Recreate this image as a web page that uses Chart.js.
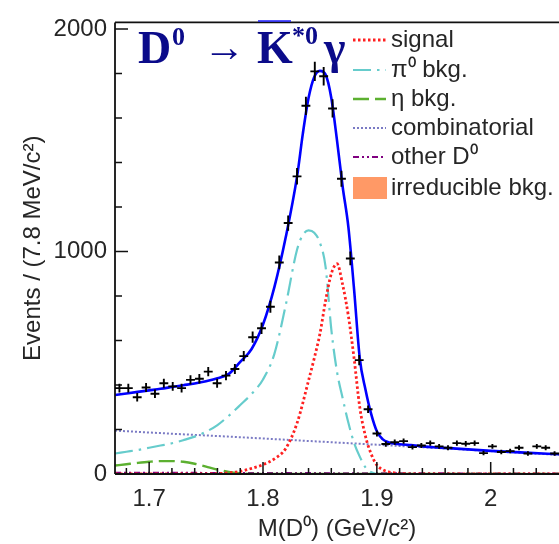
<!DOCTYPE html>
<html><head><meta charset="utf-8">
<script src="https://cdn.jsdelivr.net/npm/chart.js@4.4.1/dist/chart.umd.min.js"></script>
<style>html,body{margin:0;padding:0;background:#fff;}canvas{display:block;}</style>
</head><body>
<canvas id="c" width="559" height="544"></canvas>
<script>
// ---- data ----
const binCenters = [1.6739,1.6817,1.6895,1.6973,1.7051,1.7129,1.7207,1.7285,1.7363,1.7441,
  1.7519,1.7597,1.7675,1.7753,1.7831,1.7909,1.7987,1.8065,1.8143,1.8221,
  1.8299,1.8377,1.8455,1.8533,1.8611,1.8689,1.8767,1.8845,1.8923,1.9001,
  1.9079,1.9157,1.9235,1.9313,1.9391,1.9469,1.9547,1.9625,1.9703,1.9781,
  1.9859,1.9937,2.0015,2.0093,2.0171,2.0249,2.0327,2.0405,2.0483,2.0561];
const counts = [386,386,345,389,361,408,394,386,423,428,
  460,408,442,472,530,615,655,752,951,1128,
  1338,1655,1810,1788,1643,1327,969,512,291,182,
  135,143,148,121,128,139,124,118,139,136,
  139,94,124,99,103,118,92,124,118,92];
const countErrors = [20,20,19,20,19,20,20,20,21,21,
  21,20,21,22,23,25,26,27,31,34,
  37,41,43,42,41,36,31,23,17,13,
  12,12,12,11,11,12,11,11,12,12,
  12,10,11,10,10,11,10,11,11,10];
const binHalfWidth = 0.0039;

const fitX = [1.67,1.68,1.69,1.70,1.71,1.72,1.73,1.74,1.75,1.76,1.77,1.78,1.79,1.80,1.81,1.82,1.83,1.835,1.84,1.845,1.85,1.855,1.86,1.865,1.87,1.875,1.88,1.885,1.89,1.895,1.90,1.905,1.91,1.92,1.93,1.95,1.97,2.00,2.03,2.06];
const fitTotal = [355,362,369,376,383,391,399,407,417,430,450,504,562,672,840,1065,1340,1530,1690,1785,1812,1795,1690,1500,1290,1110,830,520,380,270,192,157,143,134,130,120,114,104,96,89];

const signalX = [1.67,1.74,1.76,1.77,1.78,1.79,1.80,1.81,1.82,1.83,1.84,1.845,1.85,1.855,1.86,1.865,1.87,1.875,1.88,1.885,1.89,1.895,1.90,1.905,1.91,1.92,1.94,2.06];
const signalY = [0,0,2,5,12,25,42,68,115,230,420,520,630,780,900,945,850,710,520,300,170,90,40,20,10,3,0,0];

const pi0X = [1.67,1.68,1.69,1.70,1.71,1.72,1.73,1.74,1.75,1.76,1.77,1.78,1.79,1.80,1.81,1.82,1.83,1.835,1.84,1.845,1.85,1.855,1.86,1.865,1.87,1.875,1.88,1.885,1.89,1.895,1.90];
const pi0Y = [92,100,108,118,128,138,152,168,190,220,262,310,360,425,540,760,1010,1075,1095,1085,1040,930,650,460,340,230,140,78,30,8,0];

const etaX = [1.67,1.68,1.69,1.70,1.71,1.72,1.73,1.74,1.75,1.76,1.77,1.78,1.79,1.80,2.06];
const etaY = [38,44,50,55,58,58,55,46,33,20,9,3,0,0,0];

const combX = [1.67,1.72,1.77,1.82,1.87,1.92,1.97,2.02,2.06];
const combY = [195,181,168,154,140,126,112,97,86];

const otherX = [1.67,1.75,1.85,1.95,2.06];
const otherY = [6,5,4,3,2];

const irrX = [1.67,1.75,1.85,1.95,2.06];
const irrY = [2,2,4,2,2];

const xMajorTicks = [1.7,1.8,1.9,2.0];
const xTickLabels = ['1.7','1.8','1.9','2'];
const xMinorTicks = [1.68,1.72,1.74,1.76,1.78,1.82,1.84,1.86,1.88,1.92,1.94,1.96,1.98,2.02,2.04];
const yMajorTicks = [0,1000,2000];
const yTickLabels = ['0','1000','2000'];
const yMinorTicks = [200,400,600,800,1200,1400,1600,1800];

const legendLabels = ['signal','π⁰ bkg.','η bkg.','combinatorial','other D⁰','irreducible bkg.'];
const xTitle = 'M(D⁰) (GeV/c²)';
const yTitle = 'Events / (7.8 MeV/c²)';

// ---- helpers ----
const pts = (xs, ys) => xs.map((x, i) => ({x: x, y: ys[i]}));
const SANS = '"Liberation Sans", Arial, sans-serif';
const TEXT_COLOR = '#262626';

const frameTicksPlugin = {
  id: 'frameTicks',
  afterDatasetsDraw(chart) {
    const {ctx, chartArea: a, scales} = chart;
    const xs = scales.x, ys = scales.y;
    ctx.save();
    ctx.strokeStyle = '#111';
    ctx.lineWidth = 1.8;
    ctx.beginPath();
    ctx.moveTo(a.left, a.top); ctx.lineTo(a.right + 2, a.top);
    ctx.moveTo(a.left, a.top); ctx.lineTo(a.left, a.bottom);
    ctx.moveTo(a.left, a.bottom); ctx.lineTo(a.right + 2, a.bottom);
    ctx.stroke();
    ctx.lineWidth = 1.5;
    ctx.beginPath();
    xMajorTicks.forEach(v => { const p = xs.getPixelForValue(v); ctx.moveTo(p, a.bottom); ctx.lineTo(p, a.bottom - 12); });
    xMinorTicks.forEach(v => { const p = xs.getPixelForValue(v); ctx.moveTo(p, a.bottom); ctx.lineTo(p, a.bottom - 6); });
    yMajorTicks.forEach(v => { const p = ys.getPixelForValue(v); ctx.moveTo(a.left, p); ctx.lineTo(a.left + 13, p); });
    yMinorTicks.forEach(v => { const p = ys.getPixelForValue(v); ctx.moveTo(a.left, p); ctx.lineTo(a.left + 7, p); });
    ctx.stroke();
    ctx.restore();
  }
};

const errorBarPlugin = {
  id: 'errorBars',
  afterDatasetsDraw(chart) {
    const idx = chart.data.datasets.findIndex(d => d.label === 'data');
    const meta = chart.getDatasetMeta(idx);
    const {ctx, scales} = chart;
    ctx.save();
    ctx.strokeStyle = '#000';
    ctx.lineWidth = 1.9;
    ctx.beginPath();
    meta.data.forEach((el, i) => {
      const x0 = scales.x.getPixelForValue(binCenters[i] - binHalfWidth);
      const x1 = scales.x.getPixelForValue(binCenters[i] + binHalfWidth);
      const y0 = scales.y.getPixelForValue(counts[i] - countErrors[i]);
      const y1 = scales.y.getPixelForValue(counts[i] + countErrors[i]);
      ctx.moveTo(x0, el.y); ctx.lineTo(x1, el.y);
      ctx.moveTo(el.x, y0); ctx.lineTo(el.x, y1);
    });
    ctx.stroke();
    ctx.restore();
  }
};

const legendPlugin = {
  id: 'customLegend',
  afterDraw(chart) {
    const ctx = chart.ctx;
    const rows = [40, 70, 99, 128, 157, 188];
    ctx.save();
    legendLabels.forEach((lab, i) => {
      const ds = chart.data.datasets.find(d => d.label === lab);
      const y = rows[i];
      if (ds.fill) {
        ctx.fillStyle = ds.backgroundColor;
        ctx.fillRect(353, y - 11, 34, 22);
      } else {
        ctx.strokeStyle = ds.borderColor;
        ctx.lineWidth = ds.borderWidth;
        ctx.setLineDash(ds.borderDash || []);
        ctx.beginPath(); ctx.moveTo(353, y); ctx.lineTo(386, y); ctx.stroke();
        ctx.setLineDash([]);
      }
      ctx.fillStyle = TEXT_COLOR;
      ctx.font = '24px ' + SANS;
      ctx.textBaseline = 'middle';
      ctx.fillText(lab, 391, y);
    });
    ctx.restore();
  }
};

const titlePlugin = {
  id: 'titleText',
  afterDraw(chart) {
    const ctx = chart.ctx;
    const SERIF = '"Liberation Serif", "Times New Roman", serif';
    ctx.save();
    ctx.fillStyle = '#0b0b8a';
    ctx.textBaseline = 'alphabetic';
    ctx.font = 'bold 46px ' + SERIF; ctx.fillText('D', 138, 63);
    ctx.font = 'bold 26px ' + SERIF; ctx.fillText('0', 172, 45);
    ctx.font = '42px ' + SERIF; ctx.fillText('→', 203, 61);
    ctx.font = 'bold 46px ' + SERIF; ctx.fillText('K', 257, 63);
    ctx.font = 'bold 26px ' + SERIF; ctx.fillText('*0', 292, 44);
    ctx.font = 'bold 46px ' + SERIF; ctx.fillText('γ', 324, 63);
    ctx.strokeStyle = '#1a1aff'; ctx.lineWidth = 1.6;
    ctx.beginPath(); ctx.moveTo(258, 21); ctx.lineTo(291, 21); ctx.stroke();
    ctx.restore();
  }
};

const lineDs = (label, xs, ys, color, width, dash, order) => ({
  label: label, data: pts(xs, ys), showLine: true, borderColor: color,
  borderWidth: width, borderDash: dash, pointRadius: 0, fill: false,
  cubicInterpolationMode: 'monotone', order: order
});

new Chart(document.getElementById('c'), {
  type: 'scatter',
  data: {
    datasets: [
      {label: 'data', data: pts(binCenters, counts), pointRadius: 0, showLine: false, order: 0},
      lineDs('total fit', fitX, fitTotal, '#0000ff', 2.6, [], 1),
      lineDs('signal', signalX, signalY, '#ff2020', 2.8, [2.5, 2.5], 2),
      lineDs('π⁰ bkg.', pi0X, pi0Y, '#66cccc', 2.2, [18, 6, 2.5, 6], 3),
      lineDs('η bkg.', etaX, etaY, '#5cb030', 2.4, [16, 6], 4),
      lineDs('combinatorial', combX, combY, '#7a7ac4', 2, [2, 2], 5),
      lineDs('other D⁰', otherX, otherY, '#800080', 2, [6, 3, 2, 3, 2, 3], 6),
      {label: 'irreducible bkg.', data: pts(irrX, irrY), showLine: true, fill: 'origin',
       backgroundColor: '#ff9966', borderWidth: 0, borderColor: '#ff9966', pointRadius: 0, order: 7}
    ]
  },
  options: {
    responsive: false, animation: false, devicePixelRatio: 1,
    layout: {padding: {top: 15, right: 0, left: 0, bottom: 0}},
    plugins: {legend: {display: false}, tooltip: {enabled: false}},
    scales: {
      x: {
        type: 'linear', min: 1.67, max: 2.06,
        afterFit: s => { s.height = 70; },
        afterBuildTicks: s => { s.ticks = xMajorTicks.map(v => ({value: v})); },
        grid: {display: false, drawTicks: false},
        border: {display: false},
        ticks: {callback: (v, i) => xTickLabels[i], autoSkip: false, maxRotation: 0,
                padding: 11, color: TEXT_COLOR, font: {family: SANS, size: 24}},
        title: {display: true, text: xTitle, color: TEXT_COLOR, font: {family: SANS, size: 24},
                padding: {top: 0, bottom: 0}}
      },
      y: {
        type: 'linear', min: 0, max: 2030,
        afterFit: s => { s.width = 115; },
        afterBuildTicks: s => { s.ticks = yMajorTicks.map(v => ({value: v})); },
        grid: {display: false, drawTicks: false},
        border: {display: false},
        ticks: {callback: (v, i) => yTickLabels[i], autoSkip: false,
                padding: 8, color: TEXT_COLOR, font: {family: SANS, size: 24}},
        title: {display: true, text: yTitle, color: TEXT_COLOR, font: {family: SANS, size: 24},
                padding: {top: 19, bottom: 0}}
      }
    }
  },
  plugins: [frameTicksPlugin, errorBarPlugin, legendPlugin, titlePlugin]
});
</script>
</body></html>
